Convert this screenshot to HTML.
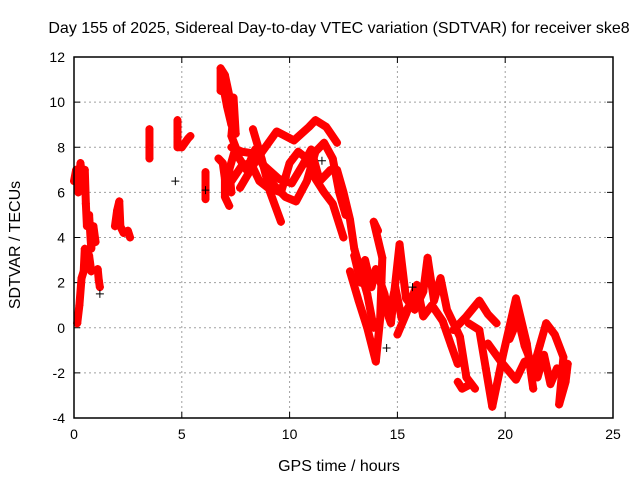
<!DOCTYPE html>
<html><head><meta charset="utf-8"><style>
body{margin:0;background:#fff}
svg{display:block;font-family:"Liberation Sans",sans-serif}
</style></head><body>
<svg id="chart" width="640" height="480">
<text x="339" y="33" text-anchor="middle" font-size="16">Day 155 of 2025, Sidereal Day-to-day VTEC variation (SDTVAR) for receiver ske8</text>
<text x="339" y="471" text-anchor="middle" font-size="16">GPS time / hours</text>
<text transform="translate(20,245) rotate(-90)" text-anchor="middle" font-size="16">SDTVAR / TECUs</text>
<g id="grid"></g><g id="ticks"></g><g id="series"></g>
<rect x="74" y="57" width="539" height="361" fill="none" stroke="#000" stroke-width="1.5"/>
</svg>
<script>
const xTicks=[0,5,10,15,20,25];
const yTicks=[-4,-2,0,2,4,6,8,10,12];
const trackA1=[[0,6.5],[0.1,7],[0.2,6],[0.3,7.3],[0.4,6.5],[0.5,7],[0.55,5.5],[0.6,4.5],[0.7,5],[0.8,3.5],[0.9,4.5],[1.0,3.8]];
const trackA2=[[0.15,0.2],[0.25,1],[0.35,2.2],[0.45,2.5],[0.5,3.5],[0.6,2.8],[0.7,3.2],[0.8,2.5]];
const trackA3=[[1.1,2.6],[1.15,2.1],[1.2,1.8]];
const trackB=[[1.9,4.5],[2.0,5.2],[2.1,5.6],[2.15,4.5],[2.3,4.2],[2.5,4.3],[2.6,4.0]];
const trackC=[[3.5,8.8],[3.5,8.1],[3.5,7.5]];
const trackD=[[4.8,9.2],[4.8,8.6],[4.8,8.0],[5.0,8.0],[5.3,8.4],[5.4,8.5]];
const trackE=[[6.1,6.9],[6.1,6.3],[6.1,5.7]];
const trackF=[[6.8,10.5],[6.8,11.5],[7.0,11.2],[7.2,10.3],[7.4,9.5],[7.3,8.5],[7.5,8],[7.2,7],[7.3,6]];
const trackF2=[[6.7,7.5],[6.9,7.3],[7.0,6.6],[7.0,5.8],[7.2,5.4]];
const trackF3=[[6.9,10.8],[7.1,9.8],[7.3,9.0],[7.5,8.6],[7.4,10.2]];
const trackG1=[[7.3,8],[7.8,7.8],[8.5,7.7],[9.2,6.4],[9.8,5.8],[10.3,5.6],[10.8,6.5],[11.2,7.8],[11.6,8.2],[12.0,7.5],[12.3,6],[12.6,5]];
const trackG2=[[7.3,6.5],[7.8,7.2],[8.2,7.3],[8.6,6.5],[9.0,6.2],[9.6,6],[10.0,7.3],[10.4,7.8],[10.8,7.5],[11.2,6.6],[11.6,6.0],[12.0,5.5],[12.5,4]];
const trackG3=[[8.3,8.8],[8.7,7.5],[9.1,6.0],[9.6,4.7]];
const trackG4=[[7.7,6.2],[8.5,7.5],[9.4,8.7],[10.2,8.3],[10.9,8.9],[11.2,9.2],[11.7,8.9],[12.2,8.2]];
const trackG5=[[7.6,7.6],[8.0,7.0],[8.4,7.9],[8.8,7.2],[9.5,6.6],[10.1,6.4],[10.6,7.2],[11.0,7.9],[11.4,6.5],[11.9,7.0]];
const trackH0=[[12.2,7],[12.5,6],[12.8,4.8],[13.0,3.5],[13.3,2.5],[13.6,1.5],[13.9,0]];
const trackH1=[[12.8,2.5],[13.2,1.2],[13.6,0],[14,-1.5],[14.2,0.4],[14.3,3.1],[13.9,4.7],[14.1,4.3]];
const trackH1b=[[13.0,3.2],[13.3,2.0],[13.5,3.0],[13.8,1.8],[14.0,2.6],[14.4,1.5],[14.6,0.5],[14.9,1.8],[15.2,0.4],[15.5,0.9]];
const trackH2=[[14.4,1],[14.7,0.2],[15.1,3.7],[15.4,1.3],[15.8,0.8],[16.2,1.6],[16.4,3.1],[16.7,1.2],[17,2.2],[17.3,0.8],[17.9,-0.4],[18.2,-2.2],[18.6,-2.7]];
const trackH2b=[[15.0,-0.3],[15.4,0.6],[15.9,1.9],[16.2,0.5],[16.6,1.0],[17.1,0.3],[17.5,-0.8],[17.8,-1.6]];
const trackH3=[[17.6,-0.1],[18.2,0.5],[18.8,1.2],[19.2,0.6],[19.6,0.2]];
const trackH4=[[18.3,0.2],[18.8,-0.1],[19.1,-1.8],[19.4,-3.5],[19.9,-1.2],[20.5,1.3],[21,-0.7],[21.3,-2.7]];
const trackH5=[[19.2,-0.7],[19.8,-1.5],[20.5,-2.3],[20.9,-1.5],[21.3,-1.8]];
const trackH5b=[[20.2,-0.5],[20.6,0.4],[20.9,-0.8],[21.2,-1.5],[21.5,-2.2],[21.8,-1.2],[22.1,-2.5],[22.4,-1.8]];
const trackH6=[[17.8,-2.4],[18.0,-2.7],[18.4,-2.5]];
const trackH7=[[21.3,-1.8],[21.6,-0.8],[21.9,0.2],[22.3,-0.3],[22.7,-1.3],[22.5,-3.4],[22.8,-2.4],[22.9,-1.6]];
const tracks=[trackA1,trackA2,trackA3,trackB,trackC,trackD,trackE,trackF,trackF2,trackF3,trackG1,trackG2,trackG3,trackG4,trackG5,trackH0,trackH1,trackH1b,trackH2,trackH2b,trackH3,trackH4,trackH5,trackH5b,trackH6,trackH7];
const blackPts=[[4.7,6.5],[1.2,1.5],[14.5,-0.9],[15.7,1.8],[6.1,6.1],[11.5,7.4]];

const NS="http://www.w3.org/2000/svg";
const X0=74,X1=613,Y0=418,Y1=57;
const xs=v=>X0+(v-0)/25*(X1-X0);
const ys=v=>Y0-(v+4)/16*(Y0-Y1);
function mk(t,a,p){const e=document.createElementNS(NS,t);for(const k in a)e.setAttribute(k,a[k]);p.appendChild(e);return e;}
const grid=document.getElementById('grid'),tk=document.getElementById('ticks'),se=document.getElementById('series');
xTicks.forEach(v=>{
  const x=xs(v);
  if(v>0&&v<25){const g=mk('line',{x1:x,x2:x,y1:Y0,y2:Y1,stroke:'#a0a0a0','stroke-dasharray':'2,3'},grid);
  
  }
  const t=mk('text',{x:x,y:Y0+21,'text-anchor':'middle','font-size':14},tk);t.textContent=v;
  
  
  mk('line',{x1:x,x2:x,y1:Y0,y2:Y0-6,stroke:'#000'},tk);mk('line',{x1:x,x2:x,y1:Y1,y2:Y1+6,stroke:'#000'},tk);
});
yTicks.forEach(v=>{
  const y=ys(v);
  if(v>-4&&v<12){const g=mk('line',{x1:X0,x2:X1,y1:y,y2:y,stroke:'#a0a0a0','stroke-dasharray':'2,3'},grid);
  
  }
  const t=mk('text',{x:X0-9,y:y+5,'text-anchor':'end','font-size':14},tk);t.textContent=v;
  
  
  mk('line',{x1:X0,x2:X0+6,y1:y,y2:y,stroke:'#000'},tk);mk('line',{x1:X1,x2:X1-6,y1:y,y2:y,stroke:'#000'},tk);
});
function plus(x,y){return `M${x-4},${y}h8M${x},${y-4}v8`;}
tracks.forEach(tr=>{
  const pl=mk('polyline',{points:tr.map(p=>xs(p[0])+','+ys(p[1])).join(' '),fill:'none',stroke:'#ff0000','stroke-width':8,'stroke-linejoin':'round','stroke-linecap':'round'},se);
  
  
  const m=mk('path',{d:tr.map(p=>plus(xs(p[0]),ys(p[1]))).join(''),stroke:'#ff0000','stroke-width':1.5,fill:'none'},se);
  
  
});
const bp=mk('path',{d:blackPts.map(p=>plus(xs(p[0]),ys(p[1]))).join(''),stroke:'#000','stroke-width':1,fill:'none'},se);


</script>
</body></html>
